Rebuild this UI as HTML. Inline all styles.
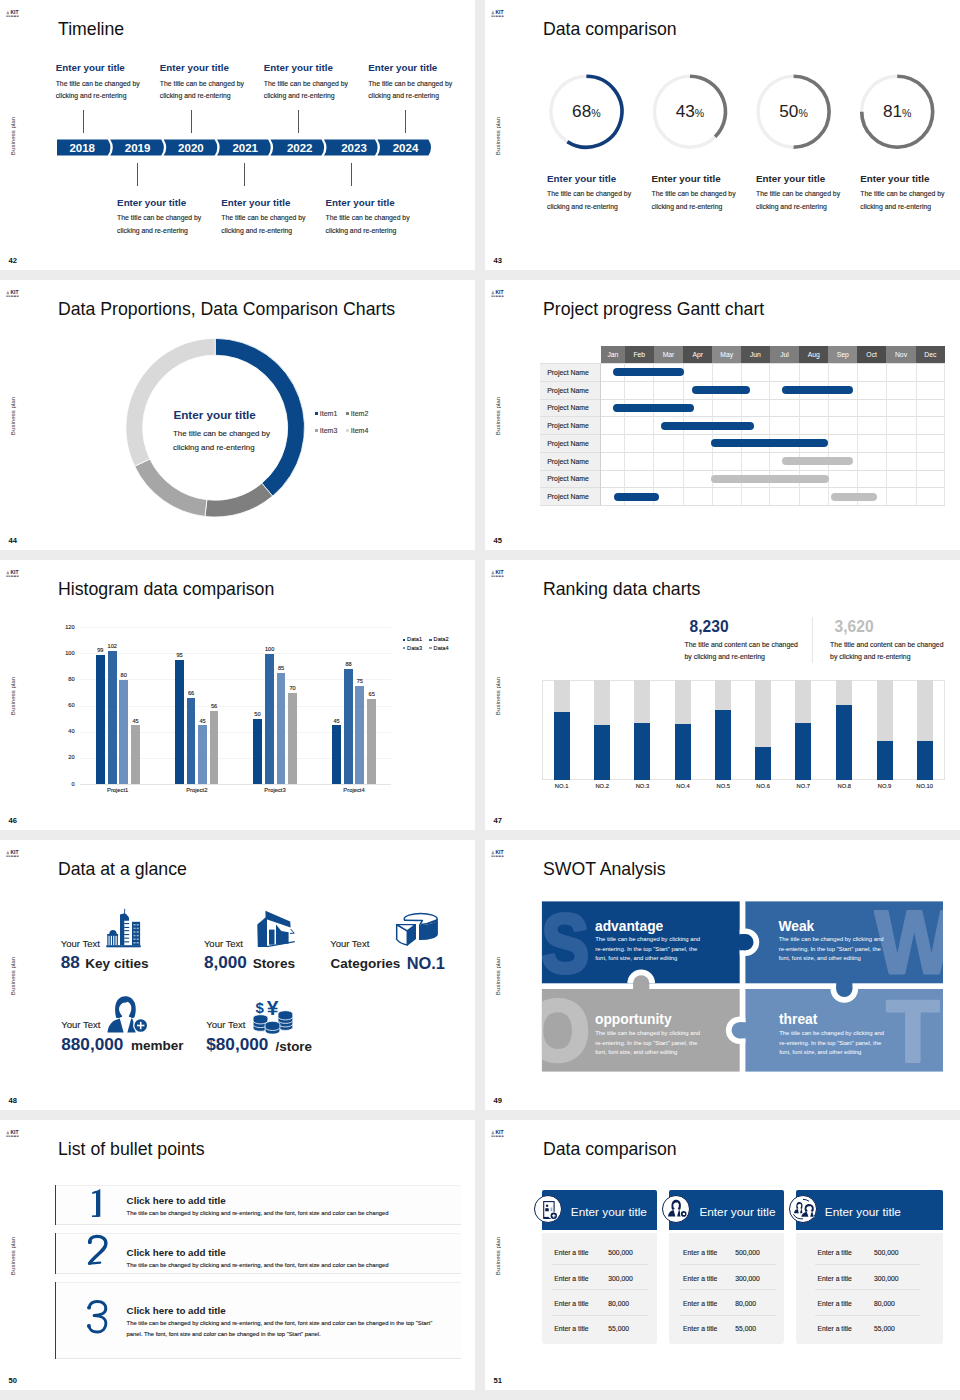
<!DOCTYPE html>
<html><head><meta charset="utf-8"><style>
*{margin:0;padding:0;box-sizing:border-box}
html,body{width:960px;height:1400px;overflow:hidden;background:#ececec;font-family:"Liberation Sans",sans-serif}
.t{position:absolute;white-space:nowrap}
.r{position:absolute}
</style></head><body>
<div class="r" style="left:0.00px;top:0.00px;width:475.00px;height:270.00px;background:#fff;"></div>
<svg class="r" style="left:6px;top:9.5px" width="15" height="9" viewBox="0 0 15 9"><path d="M0.3 4.3 L1.9 0.6 L3.4 4.3 Z" fill="#9a9a9a"/><text x="4.4" y="4.3" font-family="Liberation Sans" font-weight="700" font-size="5" fill="#10285a">KIT</text><g fill="#4a5068" opacity="0.8"><rect x="0.4" y="5.5" width="1.4" height="1.5"/><rect x="2.4" y="5.5" width="1.4" height="1.5"/><rect x="4.6" y="5.5" width="2.2" height="1.5"/><rect x="7.4" y="5.5" width="3.0" height="1.5"/><rect x="11" y="5.5" width="1.6" height="1.5"/></g></svg>
<div class="t" style="left:-6.800000000000001px;top:132.5px;width:40px;height:6px;font-size:6.15px;line-height:6px;text-align:center;color:#333;transform:rotate(-90deg)">Business plan</div>
<div class="t" style="top:257.17px;font-size:7.6px;line-height:7.6px;color:#111;font-weight:700;left:8.60px;">42</div>
<div class="t" style="top:21.22px;font-size:17.7px;line-height:17.7px;color:#111;font-weight:400;left:58.00px;">Timeline</div>
<svg class="r" style="left:0;top:0" width="475" height="270"><path d="M57.00,139.5 L107.83,139.5 Q113.03,147.5 107.83,155.5 L57.00,155.5 Z M110.23,139.5 L161.26,139.5 Q166.46,147.5 161.26,155.5 L110.23,155.5 Q115.43,147.5 110.23,139.5 Z M163.66,139.5 L214.69,139.5 Q219.89,147.5 214.69,155.5 L163.66,155.5 Q168.86,147.5 163.66,139.5 Z M217.09,139.5 L268.12,139.5 Q273.32,147.5 268.12,155.5 L217.09,155.5 Q222.29,147.5 217.09,139.5 Z M270.52,139.5 L321.55,139.5 Q326.75,147.5 321.55,155.5 L270.52,155.5 Q275.72,147.5 270.52,139.5 Z M323.95,139.5 L374.98,139.5 Q380.18,147.5 374.98,155.5 L323.95,155.5 Q329.15,147.5 323.95,139.5 Z M377.38,139.5 L428.41,139.5 Q433.61,147.5 428.41,155.5 L377.38,155.5 Q382.58,147.5 377.38,139.5 Z" fill="#0a4788"/></svg>
<div class="t" style="top:143.07px;font-size:11.5px;line-height:11.5px;color:#fff;font-weight:700;left:57.20px;width:50px;text-align:center;">2018</div>
<div class="t" style="top:143.07px;font-size:11.5px;line-height:11.5px;color:#fff;font-weight:700;left:112.60px;width:50px;text-align:center;">2019</div>
<div class="t" style="top:143.07px;font-size:11.5px;line-height:11.5px;color:#fff;font-weight:700;left:165.90px;width:50px;text-align:center;">2020</div>
<div class="t" style="top:143.07px;font-size:11.5px;line-height:11.5px;color:#fff;font-weight:700;left:220.20px;width:50px;text-align:center;">2021</div>
<div class="t" style="top:143.07px;font-size:11.5px;line-height:11.5px;color:#fff;font-weight:700;left:274.70px;width:50px;text-align:center;">2022</div>
<div class="t" style="top:143.07px;font-size:11.5px;line-height:11.5px;color:#fff;font-weight:700;left:329.00px;width:50px;text-align:center;">2023</div>
<div class="t" style="top:143.07px;font-size:11.5px;line-height:11.5px;color:#fff;font-weight:700;left:380.50px;width:50px;text-align:center;">2024</div>
<div class="r" style="left:83.00px;top:110.00px;width:1.00px;height:22.50px;background:#555;"></div>
<div class="r" style="left:191.00px;top:110.00px;width:1.00px;height:22.50px;background:#555;"></div>
<div class="r" style="left:298.00px;top:110.00px;width:1.00px;height:22.50px;background:#555;"></div>
<div class="r" style="left:404.50px;top:110.00px;width:1.00px;height:22.50px;background:#555;"></div>
<div class="r" style="left:137.00px;top:162.50px;width:1.00px;height:23.50px;background:#555;"></div>
<div class="r" style="left:243.50px;top:162.50px;width:1.00px;height:23.50px;background:#555;"></div>
<div class="r" style="left:351.00px;top:162.50px;width:1.00px;height:23.50px;background:#555;"></div>
<div class="t" style="top:63.10px;font-size:9.8px;line-height:9.8px;color:#16346a;font-weight:700;left:55.70px;">Enter your title</div>
<div class="t" style="top:77.93px;font-size:6.85px;line-height:12.2px;color:#222;font-weight:400;-webkit-text-stroke:0.12px #222;left:55.70px;">The title can be changed by<br>clicking and re-entering</div>
<div class="t" style="top:63.10px;font-size:9.8px;line-height:9.8px;color:#16346a;font-weight:700;left:159.80px;">Enter your title</div>
<div class="t" style="top:77.93px;font-size:6.85px;line-height:12.2px;color:#222;font-weight:400;-webkit-text-stroke:0.12px #222;left:159.80px;">The title can be changed by<br>clicking and re-entering</div>
<div class="t" style="top:63.10px;font-size:9.8px;line-height:9.8px;color:#16346a;font-weight:700;left:263.80px;">Enter your title</div>
<div class="t" style="top:77.93px;font-size:6.85px;line-height:12.2px;color:#222;font-weight:400;-webkit-text-stroke:0.12px #222;left:263.80px;">The title can be changed by<br>clicking and re-entering</div>
<div class="t" style="top:63.10px;font-size:9.8px;line-height:9.8px;color:#16346a;font-weight:700;left:368.20px;">Enter your title</div>
<div class="t" style="top:77.93px;font-size:6.85px;line-height:12.2px;color:#222;font-weight:400;-webkit-text-stroke:0.12px #222;left:368.20px;">The title can be changed by<br>clicking and re-entering</div>
<div class="t" style="top:198.30px;font-size:9.8px;line-height:9.8px;color:#16346a;font-weight:700;left:117.10px;">Enter your title</div>
<div class="t" style="top:212.03px;font-size:6.85px;line-height:12.6px;color:#222;font-weight:400;-webkit-text-stroke:0.12px #222;left:117.10px;">The title can be changed by<br>clicking and re-entering</div>
<div class="t" style="top:198.30px;font-size:9.8px;line-height:9.8px;color:#16346a;font-weight:700;left:221.30px;">Enter your title</div>
<div class="t" style="top:212.03px;font-size:6.85px;line-height:12.6px;color:#222;font-weight:400;-webkit-text-stroke:0.12px #222;left:221.30px;">The title can be changed by<br>clicking and re-entering</div>
<div class="t" style="top:198.30px;font-size:9.8px;line-height:9.8px;color:#16346a;font-weight:700;left:325.50px;">Enter your title</div>
<div class="t" style="top:212.03px;font-size:6.85px;line-height:12.6px;color:#222;font-weight:400;-webkit-text-stroke:0.12px #222;left:325.50px;">The title can be changed by<br>clicking and re-entering</div>
<div class="r" style="left:485.00px;top:0.00px;width:475.00px;height:270.00px;background:#fff;"></div>
<svg class="r" style="left:491px;top:9.5px" width="15" height="9" viewBox="0 0 15 9"><path d="M0.3 4.3 L1.9 0.6 L3.4 4.3 Z" fill="#9a9a9a"/><text x="4.4" y="4.3" font-family="Liberation Sans" font-weight="700" font-size="5" fill="#10285a">KIT</text><g fill="#4a5068" opacity="0.8"><rect x="0.4" y="5.5" width="1.4" height="1.5"/><rect x="2.4" y="5.5" width="1.4" height="1.5"/><rect x="4.6" y="5.5" width="2.2" height="1.5"/><rect x="7.4" y="5.5" width="3.0" height="1.5"/><rect x="11" y="5.5" width="1.6" height="1.5"/></g></svg>
<div class="t" style="left:478.2px;top:132.5px;width:40px;height:6px;font-size:6.15px;line-height:6px;text-align:center;color:#333;transform:rotate(-90deg)">Business plan</div>
<div class="t" style="top:257.17px;font-size:7.6px;line-height:7.6px;color:#111;font-weight:700;left:493.60px;">43</div>
<div class="t" style="top:21.22px;font-size:17.7px;line-height:17.7px;color:#111;font-weight:400;left:543.00px;">Data comparison</div>
<svg class="r" style="left:0;top:0" width="960" height="300"><circle cx="586.4" cy="111.7" r="35.5" fill="none" stroke="#efefef" stroke-width="3.4"/><path d="M586.40,76.20 A35.5,35.5 0 1 1 567.38,141.67" fill="none" stroke="#113c7a" stroke-width="3.6"/><circle cx="690.0" cy="111.7" r="35.5" fill="none" stroke="#efefef" stroke-width="3.4"/><path d="M690.00,76.20 A35.5,35.5 0 0 1 715.10,136.80" fill="none" stroke="#737373" stroke-width="3.6"/><circle cx="793.6" cy="111.7" r="35.5" fill="none" stroke="#efefef" stroke-width="3.4"/><path d="M793.60,76.20 A35.5,35.5 0 0 1 793.60,147.20" fill="none" stroke="#737373" stroke-width="3.6"/><circle cx="897.2" cy="111.7" r="35.5" fill="none" stroke="#efefef" stroke-width="3.4"/><path d="M897.20,76.20 A35.5,35.5 0 1 1 861.70,111.70" fill="none" stroke="#737373" stroke-width="3.6"/></svg>
<div class="t" style="left:546.40px;width:80px;text-align:center;top:102.74px;font-size:17.2px;line-height:17.2px;color:#222">68<span style="font-size:10.6px">%</span></div>
<div class="t" style="left:650.00px;width:80px;text-align:center;top:102.74px;font-size:17.2px;line-height:17.2px;color:#222">43<span style="font-size:10.6px">%</span></div>
<div class="t" style="left:753.60px;width:80px;text-align:center;top:102.74px;font-size:17.2px;line-height:17.2px;color:#222">50<span style="font-size:10.6px">%</span></div>
<div class="t" style="left:857.20px;width:80px;text-align:center;top:102.74px;font-size:17.2px;line-height:17.2px;color:#222">81<span style="font-size:10.6px">%</span></div>
<div class="t" style="top:174.20px;font-size:9.8px;line-height:9.8px;color:#16346a;font-weight:700;left:547.00px;">Enter your title</div>
<div class="t" style="top:188.13px;font-size:6.85px;line-height:12.6px;color:#222;font-weight:400;-webkit-text-stroke:0.12px #222;left:547.00px;">The title can be changed by<br>clicking and re-entering</div>
<div class="t" style="top:174.20px;font-size:9.8px;line-height:9.8px;color:#262626;font-weight:700;left:651.50px;">Enter your title</div>
<div class="t" style="top:188.13px;font-size:6.85px;line-height:12.6px;color:#222;font-weight:400;-webkit-text-stroke:0.12px #222;left:651.50px;">The title can be changed by<br>clicking and re-entering</div>
<div class="t" style="top:174.20px;font-size:9.8px;line-height:9.8px;color:#262626;font-weight:700;left:756.00px;">Enter your title</div>
<div class="t" style="top:188.13px;font-size:6.85px;line-height:12.6px;color:#222;font-weight:400;-webkit-text-stroke:0.12px #222;left:756.00px;">The title can be changed by<br>clicking and re-entering</div>
<div class="t" style="top:174.20px;font-size:9.8px;line-height:9.8px;color:#262626;font-weight:700;left:860.30px;">Enter your title</div>
<div class="t" style="top:188.13px;font-size:6.85px;line-height:12.6px;color:#222;font-weight:400;-webkit-text-stroke:0.12px #222;left:860.30px;">The title can be changed by<br>clicking and re-entering</div>
<div class="r" style="left:0.00px;top:280.00px;width:475.00px;height:270.00px;background:#fff;"></div>
<svg class="r" style="left:6px;top:289.5px" width="15" height="9" viewBox="0 0 15 9"><path d="M0.3 4.3 L1.9 0.6 L3.4 4.3 Z" fill="#9a9a9a"/><text x="4.4" y="4.3" font-family="Liberation Sans" font-weight="700" font-size="5" fill="#10285a">KIT</text><g fill="#4a5068" opacity="0.8"><rect x="0.4" y="5.5" width="1.4" height="1.5"/><rect x="2.4" y="5.5" width="1.4" height="1.5"/><rect x="4.6" y="5.5" width="2.2" height="1.5"/><rect x="7.4" y="5.5" width="3.0" height="1.5"/><rect x="11" y="5.5" width="1.6" height="1.5"/></g></svg>
<div class="t" style="left:-6.800000000000001px;top:412.5px;width:40px;height:6px;font-size:6.15px;line-height:6px;text-align:center;color:#333;transform:rotate(-90deg)">Business plan</div>
<div class="t" style="top:537.17px;font-size:7.6px;line-height:7.6px;color:#111;font-weight:700;left:8.60px;">44</div>
<div class="t" style="top:301.22px;font-size:17.7px;line-height:17.7px;color:#111;font-weight:400;left:58.00px;">Data Proportions, Data Comparison Charts</div>
<svg class="r" style="left:0;top:280px" width="475" height="270" viewBox="0 280 475 270"><path d="M215.20,338.40 A89.3,89.3 0 0 1 272.60,496.11 L261.80,483.24 A72.5,72.5 0 0 0 215.20,355.20 Z" fill="#0a4788" stroke="#fff" stroke-width="0.8"/><path d="M272.60,496.11 A89.3,89.3 0 0 1 204.94,516.41 L206.87,499.72 A72.5,72.5 0 0 0 261.80,483.24 Z" fill="#7f7f7f" stroke="#fff" stroke-width="0.8"/><path d="M204.94,516.41 A89.3,89.3 0 0 1 134.67,466.29 L149.82,459.03 A72.5,72.5 0 0 0 206.87,499.72 Z" fill="#a6a6a6" stroke="#fff" stroke-width="0.8"/><path d="M134.67,466.29 A89.3,89.3 0 0 1 215.20,338.40 L215.20,355.20 A72.5,72.5 0 0 0 149.82,459.03 Z" fill="#d9d9d9" stroke="#fff" stroke-width="0.8"/></svg>
<div class="t" style="top:408.80px;font-size:11.7px;line-height:11.7px;color:#16346a;font-weight:700;left:173.40px;">Enter your title</div>
<div class="t" style="top:426.76px;font-size:7.9px;line-height:14.2px;color:#1e1e1e;font-weight:400;-webkit-text-stroke:0.12px #1e1e1e;left:173.00px;">The title can be changed by<br>clicking and re-entering</div>
<div class="r" style="left:314.80px;top:411.90px;width:3.00px;height:3.00px;background:#0a4788;"></div>
<div class="t" style="top:409.87px;font-size:7px;line-height:7px;color:#3a3a3a;font-weight:400;-webkit-text-stroke:0.12px #3a3a3a;left:319.80px;">Item1</div>
<div class="r" style="left:345.80px;top:411.90px;width:3.00px;height:3.00px;background:#7f7f7f;"></div>
<div class="t" style="top:409.87px;font-size:7px;line-height:7px;color:#3a3a3a;font-weight:400;-webkit-text-stroke:0.12px #3a3a3a;left:350.80px;">Item2</div>
<div class="r" style="left:314.80px;top:429.40px;width:3.00px;height:3.00px;background:#a6a6a6;"></div>
<div class="t" style="top:427.37px;font-size:7px;line-height:7px;color:#3a3a3a;font-weight:400;-webkit-text-stroke:0.12px #3a3a3a;left:319.80px;">Item3</div>
<div class="r" style="left:345.80px;top:429.40px;width:3.00px;height:3.00px;background:#d9d9d9;"></div>
<div class="t" style="top:427.37px;font-size:7px;line-height:7px;color:#3a3a3a;font-weight:400;-webkit-text-stroke:0.12px #3a3a3a;left:350.80px;">Item4</div>
<div class="r" style="left:485.00px;top:280.00px;width:475.00px;height:270.00px;background:#fff;"></div>
<svg class="r" style="left:491px;top:289.5px" width="15" height="9" viewBox="0 0 15 9"><path d="M0.3 4.3 L1.9 0.6 L3.4 4.3 Z" fill="#9a9a9a"/><text x="4.4" y="4.3" font-family="Liberation Sans" font-weight="700" font-size="5" fill="#10285a">KIT</text><g fill="#4a5068" opacity="0.8"><rect x="0.4" y="5.5" width="1.4" height="1.5"/><rect x="2.4" y="5.5" width="1.4" height="1.5"/><rect x="4.6" y="5.5" width="2.2" height="1.5"/><rect x="7.4" y="5.5" width="3.0" height="1.5"/><rect x="11" y="5.5" width="1.6" height="1.5"/></g></svg>
<div class="t" style="left:478.2px;top:412.5px;width:40px;height:6px;font-size:6.15px;line-height:6px;text-align:center;color:#333;transform:rotate(-90deg)">Business plan</div>
<div class="t" style="top:537.17px;font-size:7.6px;line-height:7.6px;color:#111;font-weight:700;left:493.60px;">45</div>
<div class="t" style="top:301.22px;font-size:17.7px;line-height:17.7px;color:#111;font-weight:400;left:543.00px;">Project progress Gantt chart</div>
<div class="r" style="left:540.30px;top:363.40px;width:60.30px;height:142.00px;background:#f0f0f0;"></div>
<div class="r" style="left:601.10px;top:363.40px;width:343.70px;height:142.00px;background:#fff;"></div>
<div class="r" style="left:601.10px;top:346.00px;width:23.60px;height:17.40px;background:#767676;"></div>
<div class="t" style="top:352.24px;font-size:6.8px;line-height:6.8px;color:#fff;font-weight:400;left:597.90px;width:30px;text-align:center;">Jan</div>
<div class="r" style="left:624.70px;top:346.00px;width:29.10px;height:17.40px;background:#555555;"></div>
<div class="t" style="top:352.24px;font-size:6.8px;line-height:6.8px;color:#fff;font-weight:400;left:624.25px;width:30px;text-align:center;">Feb</div>
<div class="r" style="left:653.80px;top:346.00px;width:29.40px;height:17.40px;background:#808080;"></div>
<div class="t" style="top:352.24px;font-size:6.8px;line-height:6.8px;color:#fff;font-weight:400;left:653.50px;width:30px;text-align:center;">Mar</div>
<div class="r" style="left:683.20px;top:346.00px;width:29.10px;height:17.40px;background:#505050;"></div>
<div class="t" style="top:352.24px;font-size:6.8px;line-height:6.8px;color:#fff;font-weight:400;left:682.75px;width:30px;text-align:center;">Apr</div>
<div class="r" style="left:712.30px;top:346.00px;width:28.70px;height:17.40px;background:#8a8a8a;"></div>
<div class="t" style="top:352.24px;font-size:6.8px;line-height:6.8px;color:#fff;font-weight:400;left:711.65px;width:30px;text-align:center;">May</div>
<div class="r" style="left:741.00px;top:346.00px;width:28.80px;height:17.40px;background:#555555;"></div>
<div class="t" style="top:352.24px;font-size:6.8px;line-height:6.8px;color:#fff;font-weight:400;left:740.40px;width:30px;text-align:center;">Jun</div>
<div class="r" style="left:769.80px;top:346.00px;width:29.40px;height:17.40px;background:#7e7e7e;"></div>
<div class="t" style="top:352.24px;font-size:6.8px;line-height:6.8px;color:#fff;font-weight:400;left:769.50px;width:30px;text-align:center;">Jul</div>
<div class="r" style="left:799.20px;top:346.00px;width:29.10px;height:17.40px;background:#505050;"></div>
<div class="t" style="top:352.24px;font-size:6.8px;line-height:6.8px;color:#fff;font-weight:400;left:798.75px;width:30px;text-align:center;">Aug</div>
<div class="r" style="left:828.30px;top:346.00px;width:28.90px;height:17.40px;background:#8a8a8a;"></div>
<div class="t" style="top:352.24px;font-size:6.8px;line-height:6.8px;color:#fff;font-weight:400;left:827.75px;width:30px;text-align:center;">Sep</div>
<div class="r" style="left:857.20px;top:346.00px;width:28.90px;height:17.40px;background:#4c4c4c;"></div>
<div class="t" style="top:352.24px;font-size:6.8px;line-height:6.8px;color:#fff;font-weight:400;left:856.65px;width:30px;text-align:center;">Oct</div>
<div class="r" style="left:886.10px;top:346.00px;width:29.80px;height:17.40px;background:#808080;"></div>
<div class="t" style="top:352.24px;font-size:6.8px;line-height:6.8px;color:#fff;font-weight:400;left:886.00px;width:30px;text-align:center;">Nov</div>
<div class="r" style="left:915.90px;top:346.00px;width:28.90px;height:17.40px;background:#555555;"></div>
<div class="t" style="top:352.24px;font-size:6.8px;line-height:6.8px;color:#fff;font-weight:400;left:915.35px;width:30px;text-align:center;">Dec</div>
<div class="r" style="left:540.30px;top:363.00px;width:404.50px;height:0.80px;background:#e0e0e0;"></div>
<div class="r" style="left:540.30px;top:380.75px;width:404.50px;height:0.80px;background:#e0e0e0;"></div>
<div class="r" style="left:540.30px;top:398.50px;width:404.50px;height:0.80px;background:#e0e0e0;"></div>
<div class="r" style="left:540.30px;top:416.25px;width:404.50px;height:0.80px;background:#e0e0e0;"></div>
<div class="r" style="left:540.30px;top:434.00px;width:404.50px;height:0.80px;background:#e0e0e0;"></div>
<div class="r" style="left:540.30px;top:451.75px;width:404.50px;height:0.80px;background:#e0e0e0;"></div>
<div class="r" style="left:540.30px;top:469.50px;width:404.50px;height:0.80px;background:#e0e0e0;"></div>
<div class="r" style="left:540.30px;top:487.25px;width:404.50px;height:0.80px;background:#e0e0e0;"></div>
<div class="r" style="left:540.30px;top:505.00px;width:404.50px;height:0.80px;background:#e0e0e0;"></div>
<div class="r" style="left:624.30px;top:363.40px;width:0.80px;height:142.00px;background:#e6e6e6;"></div>
<div class="r" style="left:653.40px;top:363.40px;width:0.80px;height:142.00px;background:#e6e6e6;"></div>
<div class="r" style="left:682.80px;top:363.40px;width:0.80px;height:142.00px;background:#e6e6e6;"></div>
<div class="r" style="left:711.90px;top:363.40px;width:0.80px;height:142.00px;background:#e6e6e6;"></div>
<div class="r" style="left:740.60px;top:363.40px;width:0.80px;height:142.00px;background:#e6e6e6;"></div>
<div class="r" style="left:769.40px;top:363.40px;width:0.80px;height:142.00px;background:#e6e6e6;"></div>
<div class="r" style="left:798.80px;top:363.40px;width:0.80px;height:142.00px;background:#e6e6e6;"></div>
<div class="r" style="left:827.90px;top:363.40px;width:0.80px;height:142.00px;background:#e6e6e6;"></div>
<div class="r" style="left:856.80px;top:363.40px;width:0.80px;height:142.00px;background:#e6e6e6;"></div>
<div class="r" style="left:885.70px;top:363.40px;width:0.80px;height:142.00px;background:#e6e6e6;"></div>
<div class="r" style="left:915.50px;top:363.40px;width:0.80px;height:142.00px;background:#e6e6e6;"></div>
<div class="r" style="left:944.40px;top:363.40px;width:0.80px;height:142.00px;background:#e6e6e6;"></div>
<div class="r" style="left:600.20px;top:363.40px;width:0.80px;height:142.00px;background:#d0d0d0;"></div>
<div class="t" style="top:369.76px;font-size:6.9px;line-height:6.9px;color:#222;font-weight:400;-webkit-text-stroke:0.12px #222;left:547.20px;">Project Name</div>
<div class="t" style="top:387.51px;font-size:6.9px;line-height:6.9px;color:#222;font-weight:400;-webkit-text-stroke:0.12px #222;left:547.20px;">Project Name</div>
<div class="t" style="top:405.26px;font-size:6.9px;line-height:6.9px;color:#222;font-weight:400;-webkit-text-stroke:0.12px #222;left:547.20px;">Project Name</div>
<div class="t" style="top:423.01px;font-size:6.9px;line-height:6.9px;color:#222;font-weight:400;-webkit-text-stroke:0.12px #222;left:547.20px;">Project Name</div>
<div class="t" style="top:440.76px;font-size:6.9px;line-height:6.9px;color:#222;font-weight:400;-webkit-text-stroke:0.12px #222;left:547.20px;">Project Name</div>
<div class="t" style="top:458.51px;font-size:6.9px;line-height:6.9px;color:#222;font-weight:400;-webkit-text-stroke:0.12px #222;left:547.20px;">Project Name</div>
<div class="t" style="top:476.26px;font-size:6.9px;line-height:6.9px;color:#222;font-weight:400;-webkit-text-stroke:0.12px #222;left:547.20px;">Project Name</div>
<div class="t" style="top:494.01px;font-size:6.9px;line-height:6.9px;color:#222;font-weight:400;-webkit-text-stroke:0.12px #222;left:547.20px;">Project Name</div>
<div class="r" style="left:613.00px;top:368.30px;width:71.00px;height:8.00px;background:#0a4788;border-radius:4px;"></div>
<div class="r" style="left:692.40px;top:386.05px;width:57.20px;height:8.00px;background:#0a4788;border-radius:4px;"></div>
<div class="r" style="left:782.00px;top:386.05px;width:71.00px;height:8.00px;background:#0a4788;border-radius:4px;"></div>
<div class="r" style="left:613.00px;top:403.80px;width:81.00px;height:8.00px;background:#0a4788;border-radius:4px;"></div>
<div class="r" style="left:661.00px;top:421.55px;width:93.20px;height:8.00px;background:#0a4788;border-radius:4px;"></div>
<div class="r" style="left:710.70px;top:439.30px;width:117.10px;height:8.00px;background:#0a4788;border-radius:4px;"></div>
<div class="r" style="left:782.00px;top:457.05px;width:71.00px;height:8.00px;background:#bfbfbf;border-radius:4px;"></div>
<div class="r" style="left:710.70px;top:474.80px;width:118.10px;height:8.00px;background:#bfbfbf;border-radius:4px;"></div>
<div class="r" style="left:613.70px;top:492.55px;width:45.20px;height:8.00px;background:#0a4788;border-radius:4px;"></div>
<div class="r" style="left:831.00px;top:492.55px;width:46.00px;height:8.00px;background:#bfbfbf;border-radius:4px;"></div>
<div class="r" style="left:0.00px;top:560.00px;width:475.00px;height:270.00px;background:#fff;"></div>
<svg class="r" style="left:6px;top:569.5px" width="15" height="9" viewBox="0 0 15 9"><path d="M0.3 4.3 L1.9 0.6 L3.4 4.3 Z" fill="#9a9a9a"/><text x="4.4" y="4.3" font-family="Liberation Sans" font-weight="700" font-size="5" fill="#10285a">KIT</text><g fill="#4a5068" opacity="0.8"><rect x="0.4" y="5.5" width="1.4" height="1.5"/><rect x="2.4" y="5.5" width="1.4" height="1.5"/><rect x="4.6" y="5.5" width="2.2" height="1.5"/><rect x="7.4" y="5.5" width="3.0" height="1.5"/><rect x="11" y="5.5" width="1.6" height="1.5"/></g></svg>
<div class="t" style="left:-6.800000000000001px;top:692.5px;width:40px;height:6px;font-size:6.15px;line-height:6px;text-align:center;color:#333;transform:rotate(-90deg)">Business plan</div>
<div class="t" style="top:817.17px;font-size:7.6px;line-height:7.6px;color:#111;font-weight:700;left:8.60px;">46</div>
<div class="t" style="top:581.22px;font-size:17.7px;line-height:17.7px;color:#111;font-weight:400;left:58.00px;">Histogram data comparison</div>
<div class="t" style="top:781.56px;font-size:5.6px;line-height:5.6px;color:#1a1a1a;font-weight:400;-webkit-text-stroke:0.12px #1a1a1a;left:54.50px;width:20px;text-align:right;">0</div>
<div class="r" style="left:79.80px;top:757.80px;width:311.60px;height:0.70px;background:#f4f4f4;"></div>
<div class="t" style="top:755.41px;font-size:5.6px;line-height:5.6px;color:#1a1a1a;font-weight:400;-webkit-text-stroke:0.12px #1a1a1a;left:54.50px;width:20px;text-align:right;">20</div>
<div class="r" style="left:79.80px;top:731.65px;width:311.60px;height:0.70px;background:#f4f4f4;"></div>
<div class="t" style="top:729.26px;font-size:5.6px;line-height:5.6px;color:#1a1a1a;font-weight:400;-webkit-text-stroke:0.12px #1a1a1a;left:54.50px;width:20px;text-align:right;">40</div>
<div class="r" style="left:79.80px;top:705.50px;width:311.60px;height:0.70px;background:#f4f4f4;"></div>
<div class="t" style="top:703.11px;font-size:5.6px;line-height:5.6px;color:#1a1a1a;font-weight:400;-webkit-text-stroke:0.12px #1a1a1a;left:54.50px;width:20px;text-align:right;">60</div>
<div class="r" style="left:79.80px;top:679.35px;width:311.60px;height:0.70px;background:#f4f4f4;"></div>
<div class="t" style="top:676.96px;font-size:5.6px;line-height:5.6px;color:#1a1a1a;font-weight:400;-webkit-text-stroke:0.12px #1a1a1a;left:54.50px;width:20px;text-align:right;">80</div>
<div class="r" style="left:79.80px;top:653.20px;width:311.60px;height:0.70px;background:#f4f4f4;"></div>
<div class="t" style="top:650.81px;font-size:5.6px;line-height:5.6px;color:#1a1a1a;font-weight:400;-webkit-text-stroke:0.12px #1a1a1a;left:54.50px;width:20px;text-align:right;">100</div>
<div class="r" style="left:79.80px;top:627.05px;width:311.60px;height:0.70px;background:#f4f4f4;"></div>
<div class="t" style="top:624.66px;font-size:5.6px;line-height:5.6px;color:#1a1a1a;font-weight:400;-webkit-text-stroke:0.12px #1a1a1a;left:54.50px;width:20px;text-align:right;">120</div>
<div class="r" style="left:79.80px;top:783.90px;width:311.60px;height:0.80px;background:#e4e4e4;"></div>
<div class="r" style="left:95.90px;top:654.86px;width:8.80px;height:129.44px;background:#0a4788;"></div>
<div class="t" style="top:647.92px;font-size:5.6px;line-height:5.6px;color:#1a1a1a;font-weight:400;-webkit-text-stroke:0.12px #1a1a1a;left:90.30px;width:20px;text-align:center;">99</div>
<div class="r" style="left:107.80px;top:650.93px;width:8.80px;height:133.37px;background:#2f65a1;"></div>
<div class="t" style="top:643.99px;font-size:5.6px;line-height:5.6px;color:#1a1a1a;font-weight:400;-webkit-text-stroke:0.12px #1a1a1a;left:102.20px;width:20px;text-align:center;">102</div>
<div class="r" style="left:119.30px;top:679.70px;width:8.80px;height:104.60px;background:#6c91bf;"></div>
<div class="t" style="top:672.76px;font-size:5.6px;line-height:5.6px;color:#1a1a1a;font-weight:400;-webkit-text-stroke:0.12px #1a1a1a;left:113.70px;width:20px;text-align:center;">80</div>
<div class="r" style="left:131.20px;top:725.46px;width:8.80px;height:58.84px;background:#a6a6a6;"></div>
<div class="t" style="top:718.52px;font-size:5.6px;line-height:5.6px;color:#1a1a1a;font-weight:400;-webkit-text-stroke:0.12px #1a1a1a;left:125.60px;width:20px;text-align:center;">45</div>
<div class="t" style="top:788.49px;font-size:5.8px;line-height:5.8px;color:#222;font-weight:400;-webkit-text-stroke:0.12px #222;left:97.70px;width:40px;text-align:center;">Project1</div>
<div class="r" style="left:175.20px;top:660.09px;width:8.80px;height:124.21px;background:#0a4788;"></div>
<div class="t" style="top:653.15px;font-size:5.6px;line-height:5.6px;color:#1a1a1a;font-weight:400;-webkit-text-stroke:0.12px #1a1a1a;left:169.60px;width:20px;text-align:center;">95</div>
<div class="r" style="left:186.70px;top:698.00px;width:8.80px;height:86.29px;background:#2f65a1;"></div>
<div class="t" style="top:691.06px;font-size:5.6px;line-height:5.6px;color:#1a1a1a;font-weight:400;-webkit-text-stroke:0.12px #1a1a1a;left:181.10px;width:20px;text-align:center;">66</div>
<div class="r" style="left:198.20px;top:725.46px;width:8.80px;height:58.84px;background:#6c91bf;"></div>
<div class="t" style="top:718.52px;font-size:5.6px;line-height:5.6px;color:#1a1a1a;font-weight:400;-webkit-text-stroke:0.12px #1a1a1a;left:192.60px;width:20px;text-align:center;">45</div>
<div class="r" style="left:209.60px;top:711.08px;width:8.80px;height:73.22px;background:#a6a6a6;"></div>
<div class="t" style="top:704.14px;font-size:5.6px;line-height:5.6px;color:#1a1a1a;font-weight:400;-webkit-text-stroke:0.12px #1a1a1a;left:204.00px;width:20px;text-align:center;">56</div>
<div class="t" style="top:788.49px;font-size:5.8px;line-height:5.8px;color:#222;font-weight:400;-webkit-text-stroke:0.12px #222;left:176.80px;width:40px;text-align:center;">Project2</div>
<div class="r" style="left:253.00px;top:718.92px;width:8.80px;height:65.38px;background:#0a4788;"></div>
<div class="t" style="top:711.98px;font-size:5.6px;line-height:5.6px;color:#1a1a1a;font-weight:400;-webkit-text-stroke:0.12px #1a1a1a;left:247.40px;width:20px;text-align:center;">50</div>
<div class="r" style="left:265.20px;top:653.55px;width:8.80px;height:130.75px;background:#2f65a1;"></div>
<div class="t" style="top:646.61px;font-size:5.6px;line-height:5.6px;color:#1a1a1a;font-weight:400;-webkit-text-stroke:0.12px #1a1a1a;left:259.60px;width:20px;text-align:center;">100</div>
<div class="r" style="left:276.70px;top:673.16px;width:8.80px;height:111.14px;background:#6c91bf;"></div>
<div class="t" style="top:666.22px;font-size:5.6px;line-height:5.6px;color:#1a1a1a;font-weight:400;-webkit-text-stroke:0.12px #1a1a1a;left:271.10px;width:20px;text-align:center;">85</div>
<div class="r" style="left:288.20px;top:692.77px;width:8.80px;height:91.52px;background:#a6a6a6;"></div>
<div class="t" style="top:685.83px;font-size:5.6px;line-height:5.6px;color:#1a1a1a;font-weight:400;-webkit-text-stroke:0.12px #1a1a1a;left:282.60px;width:20px;text-align:center;">70</div>
<div class="t" style="top:788.49px;font-size:5.8px;line-height:5.8px;color:#222;font-weight:400;-webkit-text-stroke:0.12px #222;left:255.00px;width:40px;text-align:center;">Project3</div>
<div class="r" style="left:332.20px;top:725.46px;width:8.80px;height:58.84px;background:#0a4788;"></div>
<div class="t" style="top:718.52px;font-size:5.6px;line-height:5.6px;color:#1a1a1a;font-weight:400;-webkit-text-stroke:0.12px #1a1a1a;left:326.60px;width:20px;text-align:center;">45</div>
<div class="r" style="left:344.10px;top:669.24px;width:8.80px;height:115.06px;background:#2f65a1;"></div>
<div class="t" style="top:662.30px;font-size:5.6px;line-height:5.6px;color:#1a1a1a;font-weight:400;-webkit-text-stroke:0.12px #1a1a1a;left:338.50px;width:20px;text-align:center;">88</div>
<div class="r" style="left:355.40px;top:686.24px;width:8.80px;height:98.06px;background:#6c91bf;"></div>
<div class="t" style="top:679.30px;font-size:5.6px;line-height:5.6px;color:#1a1a1a;font-weight:400;-webkit-text-stroke:0.12px #1a1a1a;left:349.80px;width:20px;text-align:center;">75</div>
<div class="r" style="left:367.30px;top:699.31px;width:8.80px;height:84.99px;background:#a6a6a6;"></div>
<div class="t" style="top:692.37px;font-size:5.6px;line-height:5.6px;color:#1a1a1a;font-weight:400;-webkit-text-stroke:0.12px #1a1a1a;left:361.70px;width:20px;text-align:center;">65</div>
<div class="t" style="top:788.49px;font-size:5.8px;line-height:5.8px;color:#222;font-weight:400;-webkit-text-stroke:0.12px #222;left:334.00px;width:40px;text-align:center;">Project4</div>
<div class="r" style="left:402.90px;top:638.60px;width:2.60px;height:2.60px;background:#0a4788;"></div>
<div class="t" style="top:637.26px;font-size:5.6px;line-height:5.6px;color:#111;font-weight:400;-webkit-text-stroke:0.12px #111;left:407.10px;">Data1</div>
<div class="r" style="left:429.40px;top:638.60px;width:2.60px;height:2.60px;background:#2f65a1;"></div>
<div class="t" style="top:637.26px;font-size:5.6px;line-height:5.6px;color:#111;font-weight:400;-webkit-text-stroke:0.12px #111;left:433.60px;">Data2</div>
<div class="r" style="left:402.90px;top:646.90px;width:2.60px;height:2.60px;background:#6c91bf;"></div>
<div class="t" style="top:645.56px;font-size:5.6px;line-height:5.6px;color:#111;font-weight:400;-webkit-text-stroke:0.12px #111;left:407.10px;">Data3</div>
<div class="r" style="left:429.40px;top:646.90px;width:2.60px;height:2.60px;background:#a6a6a6;"></div>
<div class="t" style="top:645.56px;font-size:5.6px;line-height:5.6px;color:#111;font-weight:400;-webkit-text-stroke:0.12px #111;left:433.60px;">Data4</div>
<div class="r" style="left:485.00px;top:560.00px;width:475.00px;height:270.00px;background:#fff;"></div>
<svg class="r" style="left:491px;top:569.5px" width="15" height="9" viewBox="0 0 15 9"><path d="M0.3 4.3 L1.9 0.6 L3.4 4.3 Z" fill="#9a9a9a"/><text x="4.4" y="4.3" font-family="Liberation Sans" font-weight="700" font-size="5" fill="#10285a">KIT</text><g fill="#4a5068" opacity="0.8"><rect x="0.4" y="5.5" width="1.4" height="1.5"/><rect x="2.4" y="5.5" width="1.4" height="1.5"/><rect x="4.6" y="5.5" width="2.2" height="1.5"/><rect x="7.4" y="5.5" width="3.0" height="1.5"/><rect x="11" y="5.5" width="1.6" height="1.5"/></g></svg>
<div class="t" style="left:478.2px;top:692.5px;width:40px;height:6px;font-size:6.15px;line-height:6px;text-align:center;color:#333;transform:rotate(-90deg)">Business plan</div>
<div class="t" style="top:817.17px;font-size:7.6px;line-height:7.6px;color:#111;font-weight:700;left:493.60px;">47</div>
<div class="t" style="top:581.22px;font-size:17.7px;line-height:17.7px;color:#111;font-weight:400;left:543.00px;">Ranking data charts</div>
<div class="t" style="top:619.19px;font-size:15.6px;line-height:15.6px;color:#16346a;font-weight:700;left:689.60px;">8,230</div>
<div class="t" style="top:619.19px;font-size:15.6px;line-height:15.6px;color:#bdbdbd;font-weight:700;left:834.60px;">3,620</div>
<div class="t" style="top:638.56px;font-size:6.9px;line-height:12.1px;color:#222;font-weight:400;-webkit-text-stroke:0.12px #222;left:684.50px;">The title and content can be changed<br>by clicking and re-entering</div>
<div class="t" style="top:638.56px;font-size:6.9px;line-height:12.1px;color:#222;font-weight:400;-webkit-text-stroke:0.12px #222;left:830.10px;">The title and content can be changed<br>by clicking and re-entering</div>
<div class="r" style="left:812.30px;top:616.50px;width:0.80px;height:46.00px;background:#e6e6e6;"></div>
<div class="r" style="left:541.50px;top:679.60px;width:403.30px;height:100.00px;background:#fff;border:0.8px solid #e3e3e3;"></div>
<div class="r" style="left:553.60px;top:679.60px;width:16.00px;height:32.40px;background:#d9d9d9;"></div>
<div class="r" style="left:553.60px;top:712.00px;width:16.00px;height:67.60px;background:#0a4788;"></div>
<div class="t" style="top:784.09px;font-size:5.8px;line-height:5.8px;color:#222;font-weight:400;-webkit-text-stroke:0.12px #222;left:546.60px;width:30px;text-align:center;">NO.1</div>
<div class="r" style="left:594.20px;top:679.60px;width:16.00px;height:45.40px;background:#d9d9d9;"></div>
<div class="r" style="left:594.20px;top:725.00px;width:16.00px;height:54.60px;background:#0a4788;"></div>
<div class="t" style="top:784.09px;font-size:5.8px;line-height:5.8px;color:#222;font-weight:400;-webkit-text-stroke:0.12px #222;left:587.20px;width:30px;text-align:center;">NO.2</div>
<div class="r" style="left:634.40px;top:679.60px;width:16.00px;height:43.15px;background:#d9d9d9;"></div>
<div class="r" style="left:634.40px;top:722.75px;width:16.00px;height:56.85px;background:#0a4788;"></div>
<div class="t" style="top:784.09px;font-size:5.8px;line-height:5.8px;color:#222;font-weight:400;-webkit-text-stroke:0.12px #222;left:627.40px;width:30px;text-align:center;">NO.3</div>
<div class="r" style="left:675.00px;top:679.60px;width:16.00px;height:44.80px;background:#d9d9d9;"></div>
<div class="r" style="left:675.00px;top:724.40px;width:16.00px;height:55.20px;background:#0a4788;"></div>
<div class="t" style="top:784.09px;font-size:5.8px;line-height:5.8px;color:#222;font-weight:400;-webkit-text-stroke:0.12px #222;left:668.00px;width:30px;text-align:center;">NO.4</div>
<div class="r" style="left:715.30px;top:679.60px;width:16.00px;height:30.50px;background:#d9d9d9;"></div>
<div class="r" style="left:715.30px;top:710.10px;width:16.00px;height:69.50px;background:#0a4788;"></div>
<div class="t" style="top:784.09px;font-size:5.8px;line-height:5.8px;color:#222;font-weight:400;-webkit-text-stroke:0.12px #222;left:708.30px;width:30px;text-align:center;">NO.5</div>
<div class="r" style="left:755.10px;top:679.60px;width:16.00px;height:67.20px;background:#d9d9d9;"></div>
<div class="r" style="left:755.10px;top:746.80px;width:16.00px;height:32.80px;background:#0a4788;"></div>
<div class="t" style="top:784.09px;font-size:5.8px;line-height:5.8px;color:#222;font-weight:400;-webkit-text-stroke:0.12px #222;left:748.10px;width:30px;text-align:center;">NO.6</div>
<div class="r" style="left:795.30px;top:679.60px;width:16.00px;height:43.15px;background:#d9d9d9;"></div>
<div class="r" style="left:795.30px;top:722.75px;width:16.00px;height:56.85px;background:#0a4788;"></div>
<div class="t" style="top:784.09px;font-size:5.8px;line-height:5.8px;color:#222;font-weight:400;-webkit-text-stroke:0.12px #222;left:788.30px;width:30px;text-align:center;">NO.7</div>
<div class="r" style="left:836.30px;top:679.60px;width:16.00px;height:25.40px;background:#d9d9d9;"></div>
<div class="r" style="left:836.30px;top:705.00px;width:16.00px;height:74.60px;background:#0a4788;"></div>
<div class="t" style="top:784.09px;font-size:5.8px;line-height:5.8px;color:#222;font-weight:400;-webkit-text-stroke:0.12px #222;left:829.30px;width:30px;text-align:center;">NO.8</div>
<div class="r" style="left:876.50px;top:679.60px;width:16.00px;height:61.70px;background:#d9d9d9;"></div>
<div class="r" style="left:876.50px;top:741.30px;width:16.00px;height:38.30px;background:#0a4788;"></div>
<div class="t" style="top:784.09px;font-size:5.8px;line-height:5.8px;color:#222;font-weight:400;-webkit-text-stroke:0.12px #222;left:869.50px;width:30px;text-align:center;">NO.9</div>
<div class="r" style="left:916.60px;top:679.60px;width:16.00px;height:61.30px;background:#d9d9d9;"></div>
<div class="r" style="left:916.60px;top:740.90px;width:16.00px;height:38.70px;background:#0a4788;"></div>
<div class="t" style="top:784.09px;font-size:5.8px;line-height:5.8px;color:#222;font-weight:400;-webkit-text-stroke:0.12px #222;left:909.60px;width:30px;text-align:center;">NO.10</div>
<div class="r" style="left:0.00px;top:840.00px;width:475.00px;height:270.00px;background:#fff;"></div>
<svg class="r" style="left:6px;top:849.5px" width="15" height="9" viewBox="0 0 15 9"><path d="M0.3 4.3 L1.9 0.6 L3.4 4.3 Z" fill="#9a9a9a"/><text x="4.4" y="4.3" font-family="Liberation Sans" font-weight="700" font-size="5" fill="#10285a">KIT</text><g fill="#4a5068" opacity="0.8"><rect x="0.4" y="5.5" width="1.4" height="1.5"/><rect x="2.4" y="5.5" width="1.4" height="1.5"/><rect x="4.6" y="5.5" width="2.2" height="1.5"/><rect x="7.4" y="5.5" width="3.0" height="1.5"/><rect x="11" y="5.5" width="1.6" height="1.5"/></g></svg>
<div class="t" style="left:-6.800000000000001px;top:972.5px;width:40px;height:6px;font-size:6.15px;line-height:6px;text-align:center;color:#333;transform:rotate(-90deg)">Business plan</div>
<div class="t" style="top:1097.17px;font-size:7.6px;line-height:7.6px;color:#111;font-weight:700;left:8.60px;">48</div>
<div class="t" style="top:861.22px;font-size:17.7px;line-height:17.7px;color:#111;font-weight:400;left:58.00px;">Data at a glance</div>
<div class="t" style="top:938.86px;font-size:9.5px;line-height:9.5px;color:#222;font-weight:400;-webkit-text-stroke:0.12px #222;left:60.80px;">Your Text</div>
<div class="t" style="top:938.86px;font-size:9.5px;line-height:9.5px;color:#222;font-weight:400;-webkit-text-stroke:0.12px #222;left:203.90px;">Your Text</div>
<div class="t" style="top:938.96px;font-size:9.5px;line-height:9.5px;color:#222;font-weight:400;-webkit-text-stroke:0.12px #222;left:330.20px;">Your Text</div>
<div class="t" style="top:1019.96px;font-size:9.5px;line-height:9.5px;color:#222;font-weight:400;-webkit-text-stroke:0.12px #222;left:61.25px;">Your Text</div>
<div class="t" style="top:1019.96px;font-size:9.5px;line-height:9.5px;color:#222;font-weight:400;-webkit-text-stroke:0.12px #222;left:206.25px;">Your Text</div>
<div class="t" style="top:953.84px;font-size:17.2px;line-height:17.2px;color:#16346a;font-weight:700;left:60.80px;">88</div>
<div class="t" style="top:956.89px;font-size:13.6px;line-height:13.6px;color:#222;font-weight:700;left:85.20px;">Key cities</div>
<div class="t" style="top:953.84px;font-size:17.2px;line-height:17.2px;color:#16346a;font-weight:700;left:203.90px;">8,000</div>
<div class="t" style="top:956.89px;font-size:13.6px;line-height:13.6px;color:#222;font-weight:700;left:252.70px;">Stores</div>
<div class="t" style="top:956.97px;font-size:13.5px;line-height:13.5px;color:#222;font-weight:700;left:330.50px;">Categories</div>
<div class="t" style="top:954.52px;font-size:16.4px;line-height:16.4px;color:#16346a;font-weight:700;left:406.70px;">NO.1</div>
<div class="t" style="top:1036.34px;font-size:17.2px;line-height:17.2px;color:#16346a;font-weight:700;left:61.25px;">880,000</div>
<div class="t" style="top:1039.47px;font-size:13.5px;line-height:13.5px;color:#222;font-weight:700;left:131.00px;">member</div>
<div class="t" style="top:1036.34px;font-size:17.2px;line-height:17.2px;color:#16346a;font-weight:700;left:206.25px;">$80,000</div>
<div class="t" style="top:1039.56px;font-size:13.4px;line-height:13.4px;color:#222;font-weight:700;left:275.50px;">/store</div>
<svg class="r" style="left:0;top:840px" width="475" height="270" viewBox="0 840 475 270"><g fill="#0f4a8c"><rect x="106.3" y="945.2" width="34.4" height="2.1"/><rect x="107.2" y="934.0" width="10.9" height="1.9"/><path d="M109.2 934 Q109.6 930.3 112.9 930.1 Q116.4 930.3 116.8 934 Z"/><rect x="107.3" y="935.8" width="1.2" height="9.5"/><rect x="109.6" y="935.8" width="1.2" height="9.5"/><rect x="112.0" y="935.8" width="1.2" height="9.5"/><rect x="114.3" y="935.8" width="1.2" height="9.5"/><rect x="116.7" y="935.8" width="1.2" height="9.5"/><rect x="124.2" y="908.8" width="0.9" height="5.5"/><path d="M120.0 914.6 L124.6 913.2 L126.6 914.6 L129.0 917.4 L129.0 920.8 L124.3 920.8 L124.3 945.3 L120.0 945.3 Z"/><rect x="124.2" y="923.0" width="5.0" height="1.1"/><rect x="124.2" y="926.9" width="5.0" height="1.1"/><rect x="124.2" y="930.1" width="5.0" height="1.1"/><rect x="124.2" y="934.0" width="5.0" height="1.1"/><rect x="124.2" y="937.6" width="5.0" height="1.1"/><rect x="124.2" y="941.3" width="5.0" height="1.1"/><rect x="132.0" y="921.8" width="8.1" height="23.5"/></g><g fill="#fff" opacity="0.55"><rect x="133.4" y="924.0" width="2.2" height="1.6"/><rect x="136.6" y="924.0" width="2.2" height="1.6"/><rect x="133.4" y="927.6" width="2.2" height="1.6"/><rect x="136.6" y="927.6" width="2.2" height="1.6"/><rect x="133.4" y="931.2" width="2.2" height="1.6"/><rect x="136.6" y="931.2" width="2.2" height="1.6"/><rect x="133.4" y="934.8" width="2.2" height="1.6"/><rect x="136.6" y="934.8" width="2.2" height="1.6"/><rect x="133.4" y="938.4" width="2.2" height="1.6"/><rect x="136.6" y="938.4" width="2.2" height="1.6"/><rect x="133.4" y="942.0" width="2.2" height="1.6"/><rect x="136.6" y="942.0" width="2.2" height="1.6"/></g><g fill="#0f4a8c"><path d="M265.4 910.8 L290.2 921.6 L290.6 927.6 L267.2 919.4 L265.6 918.6 Z"/><path d="M257.3 924.6 L265.4 917.4 L267.0 917.6 L267.0 946.9 L257.8 946.9 Z"/><rect x="269.0" y="929.6" width="5.5" height="15.1"/><path d="M276.0 924.4 L281.3 931.0 L288.6 932.2 L288.6 943.6 L276.0 944.8 Z"/></g><path d="M266.8 946.6 L294.8 941.6" stroke="#0f4a8c" stroke-width="1.1" fill="none"/><path d="M290.7 929.1 L294.2 933.2 L290.0 933.4" stroke="#0f4a8c" stroke-width="1.0" fill="none"/><path d="M437.9 918.9 A17.2 5.9 0 0 1 419.2 924.7 L419.2 940.0 A17.2 5.9 0 0 0 437.9 934.2 Z" fill="#0f4a8c"/><ellipse cx="420.7" cy="918.9" rx="16.5" ry="5.3" fill="#fff" stroke="#0f4a8c" stroke-width="1.5"/><path d="M437.2 918.9 L437.2 921 L419.6 925.4 Z" fill="#0f4a8c"/><path d="M402.5 920.9 L422.6 920.9 L420.4 925.4 L402.5 925.4 Z" fill="#fff"/><path d="M404.3 920.2 L422.5 920.4 L419.8 924.9 L419.8 940" fill="none" stroke="#0f4a8c" stroke-width="1.5" stroke-linejoin="round"/><path d="M407.3 930.8 L415.4 924.6 L415.4 938.8 L407.3 945.0 Z" fill="#0f4a8c" stroke="#0f4a8c" stroke-width="1.2" stroke-linejoin="round"/><path d="M396.7 924.6 L407.3 930.8 L407.3 945.0 Q400.2 943.8 396.7 939.4 Z" fill="#fff" stroke="#0f4a8c" stroke-width="1.5" stroke-linejoin="round"/><path d="M396.7 924.6 L415.4 924.6 L407.3 930.8 Z" fill="#fff" stroke="#0f4a8c" stroke-width="1.4" stroke-linejoin="round"/><path d="M116.0 1017.6 C114.4 1011 114.8 1003.5 117.6 1000.0 C120.0 997.0 122.6 996.2 125.2 996.2 C129.6 996.2 133.2 998.8 134.8 1003.0 C136.2 1007.0 136.0 1013.2 134.4 1017.6 C132.6 1018.4 131.0 1017.8 130.4 1017.0 L121.0 1017.0 C120.0 1018.0 117.8 1018.6 116.0 1017.6 Z" fill="#0f4a8c"/><path d="M119.0 1008.6 C119.2 1005.2 121.6 1003.2 124.2 1002.4 C125.6 1003.2 126.8 1002.0 127.6 1001.8 C130.0 1003.0 131.4 1005.4 131.4 1008.0 C131.4 1011.6 129.6 1014.6 128.8 1016.0 L129.4 1018.8 L121.4 1018.8 L122.2 1016.0 C120.6 1014.2 119.0 1011.6 119.0 1008.6 Z" fill="#fff"/><path d="M107.4 1032.6 C108.0 1026.6 110.8 1022.2 115.0 1020.2 L119.8 1018.4 L123.6 1032.6 Z" fill="#0f4a8c"/><path d="M127.4 1032.6 L131.2 1018.4 L132.4 1018.8 C133.6 1022 134.6 1026.5 135.6 1032.6 Z" fill="#0f4a8c"/><circle cx="140.7" cy="1025.5" r="7.6" fill="#fff"/><circle cx="140.7" cy="1025.5" r="6.3" fill="#0f4a8c"/><rect x="137.0" y="1024.7" width="7.4" height="1.6" fill="#fff"/><rect x="139.9" y="1021.8" width="1.6" height="7.4" fill="#fff"/><text x="255.6" y="1012.6" font-family="Liberation Sans" font-weight="700" font-size="15" fill="#0f4a8c">$</text><text x="266.7" y="1014.6" font-family="Liberation Sans" font-weight="700" font-size="21" fill="#0f4a8c">&#165;</text><path d="M253.10 1025.20 A7.4 3.1 0 0 1 267.90 1025.20 L267.90 1028.20 A7.4 3.1 0 0 1 253.10 1028.20 Z" fill="#0f4a8c" stroke="#fff" stroke-width="0.8"/><path d="M253.10 1021.50 A7.4 3.1 0 0 1 267.90 1021.50 L267.90 1024.50 A7.4 3.1 0 0 1 253.10 1024.50 Z" fill="#0f4a8c" stroke="#fff" stroke-width="0.8"/><path d="M253.10 1017.80 A7.4 3.1 0 0 1 267.90 1017.80 L267.90 1020.80 A7.4 3.1 0 0 1 253.10 1020.80 Z" fill="#0f4a8c" stroke="#fff" stroke-width="0.8"/><path d="M278.00 1024.30 A7.4 3.1 0 0 1 292.80 1024.30 L292.80 1027.30 A7.4 3.1 0 0 1 278.00 1027.30 Z" fill="#0f4a8c" stroke="#fff" stroke-width="0.8"/><path d="M278.00 1020.80 A7.4 3.1 0 0 1 292.80 1020.80 L292.80 1023.80 A7.4 3.1 0 0 1 278.00 1023.80 Z" fill="#0f4a8c" stroke="#fff" stroke-width="0.8"/><path d="M278.00 1017.30 A7.4 3.1 0 0 1 292.80 1017.30 L292.80 1020.30 A7.4 3.1 0 0 1 278.00 1020.30 Z" fill="#0f4a8c" stroke="#fff" stroke-width="0.8"/><path d="M278.00 1013.80 A7.4 3.1 0 0 1 292.80 1013.80 L292.80 1016.80 A7.4 3.1 0 0 1 278.00 1016.80 Z" fill="#0f4a8c" stroke="#fff" stroke-width="0.8"/><path d="M265.10 1028.00 A7.4 3.1 0 0 1 279.90 1028.00 L279.90 1031.00 A7.4 3.1 0 0 1 265.10 1031.00 Z" fill="#0f4a8c" stroke="#fff" stroke-width="0.8"/><path d="M265.10 1024.40 A7.4 3.1 0 0 1 279.90 1024.40 L279.90 1027.40 A7.4 3.1 0 0 1 265.10 1027.40 Z" fill="#0f4a8c" stroke="#fff" stroke-width="0.8"/></svg>
<div class="r" style="left:485.00px;top:840.00px;width:475.00px;height:270.00px;background:#fff;"></div>
<svg class="r" style="left:491px;top:849.5px" width="15" height="9" viewBox="0 0 15 9"><path d="M0.3 4.3 L1.9 0.6 L3.4 4.3 Z" fill="#9a9a9a"/><text x="4.4" y="4.3" font-family="Liberation Sans" font-weight="700" font-size="5" fill="#10285a">KIT</text><g fill="#4a5068" opacity="0.8"><rect x="0.4" y="5.5" width="1.4" height="1.5"/><rect x="2.4" y="5.5" width="1.4" height="1.5"/><rect x="4.6" y="5.5" width="2.2" height="1.5"/><rect x="7.4" y="5.5" width="3.0" height="1.5"/><rect x="11" y="5.5" width="1.6" height="1.5"/></g></svg>
<div class="t" style="left:478.2px;top:972.5px;width:40px;height:6px;font-size:6.15px;line-height:6px;text-align:center;color:#333;transform:rotate(-90deg)">Business plan</div>
<div class="t" style="top:1097.17px;font-size:7.6px;line-height:7.6px;color:#111;font-weight:700;left:493.60px;">49</div>
<div class="t" style="top:861.22px;font-size:17.7px;line-height:17.7px;color:#111;font-weight:400;left:543.00px;">SWOT Analysis</div>
<svg class="r" style="left:0;top:0" width="960" height="1110"><defs><clipPath id="cS"><rect x="541.9" y="901.4" width="197.80000000000007" height="81.89999999999998"/></clipPath><clipPath id="cW"><rect x="745.4" y="901.4" width="197.60000000000002" height="81.89999999999998"/></clipPath><clipPath id="cO"><rect x="541.9" y="989.0" width="197.80000000000007" height="82.59999999999991"/></clipPath><clipPath id="cT"><rect x="745.4" y="989.0" width="197.60000000000002" height="82.59999999999991"/></clipPath></defs><rect x="541.9" y="901.4" width="197.80000000000007" height="81.89999999999998" fill="#0c4585"/><rect x="745.4" y="901.4" width="197.60000000000002" height="81.89999999999998" fill="#3266a2"/><rect x="541.9" y="989.0" width="197.80000000000007" height="82.59999999999991" fill="#a6a6a6"/><rect x="745.4" y="989.0" width="197.60000000000002" height="82.59999999999991" fill="#6a8fbd"/><g clip-path="url(#cS)"><text x="0" y="0" transform="translate(541.5,972.0) scale(0.86,1)" font-family="Liberation Sans" font-weight="700" font-size="83" fill="#2c5f9c" stroke="#2c5f9c" stroke-width="4.0" stroke-linejoin="round">S</text></g><g clip-path="url(#cW)"><text x="0" y="0" transform="translate(875.0,972.8) scale(0.93,1)" font-family="Liberation Sans" font-weight="700" font-size="89.5" fill="#5f85b7" stroke="#5f85b7" stroke-width="3.0" stroke-linejoin="round">W</text></g><g clip-path="url(#cO)"><text x="0" y="0" transform="translate(526.0,1059.8) scale(0.95,1)" font-family="Liberation Sans" font-weight="700" font-size="86" fill="#bfbfbf" stroke="#bfbfbf" stroke-width="4.5" stroke-linejoin="round">O</text></g><g clip-path="url(#cT)"><text x="0" y="0" transform="translate(886.3,1061.1) scale(0.99,1)" font-family="Liberation Sans" font-weight="700" font-size="88" fill="#8aa6ca" stroke="#8aa6ca" stroke-width="3.0" stroke-linejoin="round">T</text></g><clipPath id="hp0"><rect x="739.7" y="0" width="300" height="1200"/></clipPath><circle cx="745.4" cy="942.2" r="13.8" fill="#fff" clip-path="url(#hp0)"/><clipPath id="hp1"><rect x="0" y="0" width="1000" height="983.3"/></clipPath><circle cx="641.2" cy="983.3" r="13.8" fill="#fff" clip-path="url(#hp1)"/><clipPath id="hp2"><rect x="0" y="0" width="745.4" height="1200"/></clipPath><circle cx="739.7" cy="1030.3" r="13.8" fill="#fff" clip-path="url(#hp2)"/><clipPath id="hp3"><rect x="0" y="989.0" width="1000" height="300"/></clipPath><circle cx="844.3" cy="989.0" r="13.8" fill="#fff" clip-path="url(#hp3)"/><circle cx="745.4" cy="942.2" r="8.1" fill="#0c4585"/><rect x="739.2" y="934.1" width="6.699999999999932" height="16.2" fill="#0c4585"/><circle cx="641.2" cy="983.3" r="8.1" fill="#a6a6a6"/><rect x="633.1" y="982.8" width="16.2" height="6.7000000000000455" fill="#a6a6a6"/><circle cx="739.7" cy="1030.3" r="8.1" fill="#6a8fbd"/><rect x="739.2" y="1022.1999999999999" width="6.699999999999932" height="16.2" fill="#6a8fbd"/><circle cx="844.3" cy="989.0" r="8.1" fill="#3266a2"/><rect x="836.1999999999999" y="982.8" width="16.2" height="6.7000000000000455" fill="#3266a2"/></svg>
<div class="t" style="top:919.52px;font-size:13.8px;line-height:13.8px;color:#fff;font-weight:700;left:595.00px;">advantage</div>
<div class="t" style="top:935.21px;font-size:5.9px;line-height:9.5px;color:#fff;font-weight:400;left:595.20px;">The title can be changed by clicking and<br>re-entering. In the top "Start" panel, the<br>font, font size, and other editing</div>
<div class="t" style="top:919.52px;font-size:13.8px;line-height:13.8px;color:#fff;font-weight:700;left:778.50px;">Weak</div>
<div class="t" style="top:935.21px;font-size:5.9px;line-height:9.5px;color:#fff;font-weight:400;left:778.70px;">The title can be changed by clicking and<br>re-entering. In the top "Start" panel, the<br>font, font size, and other editing</div>
<div class="t" style="top:1013.32px;font-size:13.8px;line-height:13.8px;color:#fff;font-weight:700;left:595.00px;">opportunity</div>
<div class="t" style="top:1029.31px;font-size:5.9px;line-height:9.3px;color:#fff;font-weight:400;left:595.20px;">The title can be changed by clicking and<br>re-entering. In the top "Start" panel, the<br>font, font size, and other editing</div>
<div class="t" style="top:1013.12px;font-size:13.8px;line-height:13.8px;color:#fff;font-weight:700;left:779.00px;">threat</div>
<div class="t" style="top:1029.31px;font-size:5.9px;line-height:9.3px;color:#fff;font-weight:400;left:779.20px;">The title can be changed by clicking and<br>re-entering. In the top "Start" panel, the<br>font, font size, and other editing</div>
<div class="r" style="left:0.00px;top:1120.00px;width:475.00px;height:270.00px;background:#fff;"></div>
<svg class="r" style="left:6px;top:1129.5px" width="15" height="9" viewBox="0 0 15 9"><path d="M0.3 4.3 L1.9 0.6 L3.4 4.3 Z" fill="#9a9a9a"/><text x="4.4" y="4.3" font-family="Liberation Sans" font-weight="700" font-size="5" fill="#10285a">KIT</text><g fill="#4a5068" opacity="0.8"><rect x="0.4" y="5.5" width="1.4" height="1.5"/><rect x="2.4" y="5.5" width="1.4" height="1.5"/><rect x="4.6" y="5.5" width="2.2" height="1.5"/><rect x="7.4" y="5.5" width="3.0" height="1.5"/><rect x="11" y="5.5" width="1.6" height="1.5"/></g></svg>
<div class="t" style="left:-6.800000000000001px;top:1252.5px;width:40px;height:6px;font-size:6.15px;line-height:6px;text-align:center;color:#333;transform:rotate(-90deg)">Business plan</div>
<div class="t" style="top:1377.17px;font-size:7.6px;line-height:7.6px;color:#111;font-weight:700;left:8.60px;">50</div>
<div class="t" style="top:1141.22px;font-size:17.7px;line-height:17.7px;color:#111;font-weight:400;left:58.00px;">List of bullet points</div>
<div class="r" style="left:54.80px;top:1184.60px;width:406.20px;height:40.70px;background:#fdfdfd;border-top:0.8px solid #efefef;border-bottom:0.8px solid #e8e8e8;"></div>
<div class="r" style="left:54.60px;top:1184.60px;width:1.50px;height:40.70px;background:#0a4788;"></div>
<div class="r" style="left:54.80px;top:1233.40px;width:406.20px;height:40.20px;background:#fdfdfd;border-top:0.8px solid #efefef;border-bottom:0.8px solid #e8e8e8;"></div>
<div class="r" style="left:54.60px;top:1233.40px;width:1.50px;height:40.20px;background:#0a4788;"></div>
<div class="r" style="left:54.80px;top:1282.00px;width:406.20px;height:77.30px;background:#fdfdfd;border-top:0.8px solid #efefef;border-bottom:0.8px solid #e8e8e8;"></div>
<div class="r" style="left:54.60px;top:1282.00px;width:1.50px;height:77.30px;background:#0a4788;"></div>
<svg class="r" style="left:0;top:0" width="475" height="1400"><g fill="#0a4788"><path d="M96.0 1191.2 L100.3 1189.0 L100.3 1216.7 L96.0 1216.7 Z"/><path d="M92.0 1192.4 Q94.2 1191.2 97.0 1190.8 L97.0 1193.4 Q94.6 1193.0 92.4 1194.0 Z"/><path d="M92.0 1215.4 L98.6 1215.0 L98.6 1217.0 L92.0 1217.0 Z"/><circle cx="90.0" cy="1242.0" r="1.9"/><circle cx="89.0" cy="1307.7" r="1.9"/><circle cx="88.9" cy="1325.9" r="2.0"/></g><g fill="none" stroke="#0a4788" stroke-linecap="round"><path d="M89.6 1242.4 C89.6 1238.2 93.0 1236.4 97.0 1236.4 C102.4 1236.4 105.9 1239.4 105.9 1243.6 C105.9 1249.6 97.0 1254.0 89.6 1263.2" stroke-width="3.4"/><path d="M89.0 1263.6 L100.2 1262.6" stroke-width="2.2"/><path d="M89.2 1307.4 C90.0 1303.4 93.4 1301.6 97.2 1301.6 C102.6 1301.6 105.8 1304.4 105.8 1308.6 C105.8 1313.2 100.4 1315.4 94.2 1315.6" stroke-width="3.0"/><path d="M94.2 1315.6 C101.2 1315.6 105.9 1318.4 105.9 1323.0 C105.9 1328.8 102.0 1332.0 97.4 1332.0 C92.8 1332.0 89.6 1329.6 88.9 1326.0" stroke-width="2.8"/></g></svg>
<div class="t" style="top:1195.80px;font-size:9.8px;line-height:9.8px;color:#222;font-weight:700;left:126.60px;">Click here to add title</div>
<div class="t" style="top:1211.25px;font-size:5.85px;line-height:5.85px;color:#222;font-weight:400;-webkit-text-stroke:0.12px #222;left:126.60px;">The title can be changed by clicking and re-entering, and the font, font size and color can be changed</div>
<div class="t" style="top:1247.70px;font-size:9.8px;line-height:9.8px;color:#222;font-weight:700;left:126.60px;">Click here to add title</div>
<div class="t" style="top:1263.15px;font-size:5.85px;line-height:5.85px;color:#222;font-weight:400;-webkit-text-stroke:0.12px #222;left:126.60px;">The title can be changed by clicking and re-entering, and the font, font size and color can be changed</div>
<div class="t" style="top:1305.50px;font-size:9.8px;line-height:9.8px;color:#222;font-weight:700;left:126.60px;">Click here to add title</div>
<div class="t" style="top:1318.37px;font-size:5.85px;line-height:10.8px;color:#222;font-weight:400;-webkit-text-stroke:0.12px #222;left:126.60px;">The title can be changed by clicking and re-entering, and the font, font size and color can be changed in the top "Start"<br>panel. The font, font size and color can be changed in the top "Start" panel.</div>
<div class="r" style="left:485.00px;top:1120.00px;width:475.00px;height:270.00px;background:#fff;"></div>
<svg class="r" style="left:491px;top:1129.5px" width="15" height="9" viewBox="0 0 15 9"><path d="M0.3 4.3 L1.9 0.6 L3.4 4.3 Z" fill="#9a9a9a"/><text x="4.4" y="4.3" font-family="Liberation Sans" font-weight="700" font-size="5" fill="#10285a">KIT</text><g fill="#4a5068" opacity="0.8"><rect x="0.4" y="5.5" width="1.4" height="1.5"/><rect x="2.4" y="5.5" width="1.4" height="1.5"/><rect x="4.6" y="5.5" width="2.2" height="1.5"/><rect x="7.4" y="5.5" width="3.0" height="1.5"/><rect x="11" y="5.5" width="1.6" height="1.5"/></g></svg>
<div class="t" style="left:478.2px;top:1252.5px;width:40px;height:6px;font-size:6.15px;line-height:6px;text-align:center;color:#333;transform:rotate(-90deg)">Business plan</div>
<div class="t" style="top:1377.17px;font-size:7.6px;line-height:7.6px;color:#111;font-weight:700;left:493.60px;">51</div>
<div class="t" style="top:1141.22px;font-size:17.7px;line-height:17.7px;color:#111;font-weight:400;left:543.00px;">Data comparison</div>
<div class="r" style="left:542.10px;top:1190.10px;width:114.60px;height:40.10px;background:#0a4788;border-radius:2px 2px 0 0;"></div>
<div class="r" style="left:542.10px;top:1232.80px;width:114.60px;height:111.10px;background:#f2f2f2;border-radius:0 0 3px 3px;"></div>
<div class="t" style="top:1207.11px;font-size:11.8px;line-height:11.8px;color:#fff;font-weight:400;left:570.80px;">Enter your title</div>
<div class="t" style="top:1250.24px;font-size:6.8px;line-height:6.8px;color:#222;font-weight:400;-webkit-text-stroke:0.12px #222;left:554.20px;">Enter a title</div>
<div class="t" style="top:1250.24px;font-size:6.8px;line-height:6.8px;color:#222;font-weight:400;-webkit-text-stroke:0.12px #222;left:608.30px;">500,000</div>
<div class="t" style="top:1275.54px;font-size:6.8px;line-height:6.8px;color:#222;font-weight:400;-webkit-text-stroke:0.12px #222;left:554.20px;">Enter a title</div>
<div class="t" style="top:1275.54px;font-size:6.8px;line-height:6.8px;color:#222;font-weight:400;-webkit-text-stroke:0.12px #222;left:608.30px;">300,000</div>
<div class="t" style="top:1300.74px;font-size:6.8px;line-height:6.8px;color:#222;font-weight:400;-webkit-text-stroke:0.12px #222;left:554.20px;">Enter a title</div>
<div class="t" style="top:1300.74px;font-size:6.8px;line-height:6.8px;color:#222;font-weight:400;-webkit-text-stroke:0.12px #222;left:608.30px;">80,000</div>
<div class="t" style="top:1325.84px;font-size:6.8px;line-height:6.8px;color:#222;font-weight:400;-webkit-text-stroke:0.12px #222;left:554.20px;">Enter a title</div>
<div class="t" style="top:1325.84px;font-size:6.8px;line-height:6.8px;color:#222;font-weight:400;-webkit-text-stroke:0.12px #222;left:608.30px;">55,000</div>
<div class="r" style="left:552.00px;top:1264.05px;width:96.00px;height:0.70px;background:#e2e2e2;"></div>
<div class="r" style="left:552.00px;top:1289.25px;width:96.00px;height:0.70px;background:#e2e2e2;"></div>
<div class="r" style="left:552.00px;top:1315.05px;width:96.00px;height:0.70px;background:#e2e2e2;"></div>
<div class="r" style="left:534.2px;top:1195.1px;width:28px;height:28px;border-radius:50%;background:#fff;border:1.4px solid #0c2152"></div>
<div class="r" style="left:669.30px;top:1190.10px;width:114.30px;height:40.10px;background:#0a4788;border-radius:2px 2px 0 0;"></div>
<div class="r" style="left:669.30px;top:1232.80px;width:114.30px;height:111.10px;background:#f2f2f2;border-radius:0 0 3px 3px;"></div>
<div class="t" style="top:1207.11px;font-size:11.8px;line-height:11.8px;color:#fff;font-weight:400;left:699.40px;">Enter your title</div>
<div class="t" style="top:1250.24px;font-size:6.8px;line-height:6.8px;color:#222;font-weight:400;-webkit-text-stroke:0.12px #222;left:683.00px;">Enter a title</div>
<div class="t" style="top:1250.24px;font-size:6.8px;line-height:6.8px;color:#222;font-weight:400;-webkit-text-stroke:0.12px #222;left:735.30px;">500,000</div>
<div class="t" style="top:1275.54px;font-size:6.8px;line-height:6.8px;color:#222;font-weight:400;-webkit-text-stroke:0.12px #222;left:683.00px;">Enter a title</div>
<div class="t" style="top:1275.54px;font-size:6.8px;line-height:6.8px;color:#222;font-weight:400;-webkit-text-stroke:0.12px #222;left:735.30px;">300,000</div>
<div class="t" style="top:1300.74px;font-size:6.8px;line-height:6.8px;color:#222;font-weight:400;-webkit-text-stroke:0.12px #222;left:683.00px;">Enter a title</div>
<div class="t" style="top:1300.74px;font-size:6.8px;line-height:6.8px;color:#222;font-weight:400;-webkit-text-stroke:0.12px #222;left:735.30px;">80,000</div>
<div class="t" style="top:1325.84px;font-size:6.8px;line-height:6.8px;color:#222;font-weight:400;-webkit-text-stroke:0.12px #222;left:683.00px;">Enter a title</div>
<div class="t" style="top:1325.84px;font-size:6.8px;line-height:6.8px;color:#222;font-weight:400;-webkit-text-stroke:0.12px #222;left:735.30px;">55,000</div>
<div class="r" style="left:680.40px;top:1264.05px;width:95.20px;height:0.70px;background:#e2e2e2;"></div>
<div class="r" style="left:680.40px;top:1289.25px;width:95.20px;height:0.70px;background:#e2e2e2;"></div>
<div class="r" style="left:680.40px;top:1315.05px;width:95.20px;height:0.70px;background:#e2e2e2;"></div>
<div class="r" style="left:662.2px;top:1195.1px;width:28px;height:28px;border-radius:50%;background:#fff;border:1.4px solid #0c2152"></div>
<div class="r" style="left:795.60px;top:1190.10px;width:147.70px;height:40.10px;background:#0a4788;border-radius:2px 2px 0 0;"></div>
<div class="r" style="left:795.60px;top:1232.80px;width:147.70px;height:111.10px;background:#f2f2f2;border-radius:0 0 3px 3px;"></div>
<div class="t" style="top:1207.11px;font-size:11.8px;line-height:11.8px;color:#fff;font-weight:400;left:824.80px;">Enter your title</div>
<div class="t" style="top:1250.24px;font-size:6.8px;line-height:6.8px;color:#222;font-weight:400;-webkit-text-stroke:0.12px #222;left:817.50px;">Enter a title</div>
<div class="t" style="top:1250.24px;font-size:6.8px;line-height:6.8px;color:#222;font-weight:400;-webkit-text-stroke:0.12px #222;left:874.00px;">500,000</div>
<div class="t" style="top:1275.54px;font-size:6.8px;line-height:6.8px;color:#222;font-weight:400;-webkit-text-stroke:0.12px #222;left:817.50px;">Enter a title</div>
<div class="t" style="top:1275.54px;font-size:6.8px;line-height:6.8px;color:#222;font-weight:400;-webkit-text-stroke:0.12px #222;left:874.00px;">300,000</div>
<div class="t" style="top:1300.74px;font-size:6.8px;line-height:6.8px;color:#222;font-weight:400;-webkit-text-stroke:0.12px #222;left:817.50px;">Enter a title</div>
<div class="t" style="top:1300.74px;font-size:6.8px;line-height:6.8px;color:#222;font-weight:400;-webkit-text-stroke:0.12px #222;left:874.00px;">80,000</div>
<div class="t" style="top:1325.84px;font-size:6.8px;line-height:6.8px;color:#222;font-weight:400;-webkit-text-stroke:0.12px #222;left:817.50px;">Enter a title</div>
<div class="t" style="top:1325.84px;font-size:6.8px;line-height:6.8px;color:#222;font-weight:400;-webkit-text-stroke:0.12px #222;left:874.00px;">55,000</div>
<div class="r" style="left:815.30px;top:1264.05px;width:104.70px;height:0.70px;background:#e2e2e2;"></div>
<div class="r" style="left:815.30px;top:1289.25px;width:104.70px;height:0.70px;background:#e2e2e2;"></div>
<div class="r" style="left:815.30px;top:1315.05px;width:104.70px;height:0.70px;background:#e2e2e2;"></div>
<div class="r" style="left:788.7px;top:1195.1px;width:28px;height:28px;border-radius:50%;background:#fff;border:1.4px solid #0c2152"></div>
<svg class="r" style="left:0;top:0" width="960" height="1400"><rect x="543.7" y="1201.6" width="10.4" height="16.8" fill="none" stroke="#0c2152" stroke-width="1.1"/><rect x="543.7" y="1216.9" width="5.2" height="1.5" fill="#0c2152"/><circle cx="547.1" cy="1205.8" r="1.2" fill="#0c2152"/><path d="M545.2 1211.3 L545.2 1208.6 Q547.0 1207.4 548.8 1208.6 L548.8 1211.3 Z" fill="#0c2152"/><rect x="550.7" y="1207.8" width="0.6" height="3.4" fill="#0c2152" opacity="0.6"/><rect x="551.6" y="1207.2" width="0.6" height="4.0" fill="#0c2152" opacity="0.6"/><circle cx="553.8" cy="1215.8" r="4.0" fill="#fff"/><circle cx="553.8" cy="1215.8" r="3.2" fill="#0c2152"/><rect x="552.0" y="1215.25" width="3.6" height="1.1" fill="#fff"/><rect x="553.25" y="1214.0" width="1.1" height="3.6" fill="#fff"/><g transform="translate(668,1199.7) scale(0.455,0.46) translate(-107.4,-996.2)"><path d="M116.0 1017.6 C114.4 1011 114.8 1003.5 117.6 1000.0 C120.0 997.0 122.6 996.2 125.2 996.2 C129.6 996.2 133.2 998.8 134.8 1003.0 C136.2 1007.0 136.0 1013.2 134.4 1017.6 C132.6 1018.4 131.0 1017.8 130.4 1017.0 L121.0 1017.0 C120.0 1018.0 117.8 1018.6 116.0 1017.6 Z" fill="#0c2152"/><path d="M119.0 1008.6 C119.2 1005.2 121.6 1003.2 124.2 1002.4 C125.6 1003.2 126.8 1002.0 127.6 1001.8 C130.0 1003.0 131.4 1005.4 131.4 1008.0 C131.4 1011.6 129.6 1014.6 128.8 1016.0 L129.4 1018.8 L121.4 1018.8 L122.2 1016.0 C120.6 1014.2 119.0 1011.6 119.0 1008.6 Z" fill="#fff"/><path d="M107.4 1032.6 C108.0 1026.6 110.8 1022.2 115.0 1020.2 L119.8 1018.4 L123.6 1032.6 Z" fill="#0c2152"/><path d="M127.4 1032.6 L131.2 1018.4 L132.4 1018.8 C133.6 1022 134.6 1026.5 135.6 1032.6 Z" fill="#0c2152"/></g><circle cx="683.7" cy="1213.9" r="3.6" fill="#fff"/><circle cx="683.7" cy="1213.9" r="2.8" fill="#0c2152"/><circle cx="683.9" cy="1213.9" r="1.2" fill="#fff"/><g transform="translate(794.0,1202.0) scale(0.30,0.31) translate(-107.4,-996.2)"><path d="M116.0 1017.6 C114.4 1011 114.8 1003.5 117.6 1000.0 C120.0 997.0 122.6 996.2 125.2 996.2 C129.6 996.2 133.2 998.8 134.8 1003.0 C136.2 1007.0 136.0 1013.2 134.4 1017.6 C132.6 1018.4 131.0 1017.8 130.4 1017.0 L121.0 1017.0 C120.0 1018.0 117.8 1018.6 116.0 1017.6 Z" fill="#0c2152" /><path d="M107.4 1032.6 C108.0 1026.6 110.8 1022.2 115.0 1020.2 L119.8 1018.4 L123.6 1032.6 Z" fill="#0c2152" /><path d="M127.4 1032.6 L131.2 1018.4 L132.4 1018.8 C133.6 1022 134.6 1026.5 135.6 1032.6 Z" fill="#0c2152" /><path d="M119.0 1008.6 C119.2 1005.2 121.6 1003.2 124.2 1002.4 C125.6 1003.2 126.8 1002.0 127.6 1001.8 C130.0 1003.0 131.4 1005.4 131.4 1008.0 C131.4 1011.6 129.6 1014.6 128.8 1016.0 L129.4 1018.8 L121.4 1018.8 L122.2 1016.0 C120.6 1014.2 119.0 1011.6 119.0 1008.6 Z" fill="#fff"/></g><g transform="translate(801.3,1204.0) scale(0.44,0.352) translate(-107.4,-996.2)"><path d="M116.0 1017.6 C114.4 1011 114.8 1003.5 117.6 1000.0 C120.0 997.0 122.6 996.2 125.2 996.2 C129.6 996.2 133.2 998.8 134.8 1003.0 C136.2 1007.0 136.0 1013.2 134.4 1017.6 C132.6 1018.4 131.0 1017.8 130.4 1017.0 L121.0 1017.0 C120.0 1018.0 117.8 1018.6 116.0 1017.6 Z" fill="#fff" stroke="#fff" stroke-width="3"/><path d="M107.4 1032.6 C108.0 1026.6 110.8 1022.2 115.0 1020.2 L119.8 1018.4 L123.6 1032.6 Z" fill="#fff" stroke="#fff" stroke-width="3"/><path d="M127.4 1032.6 L131.2 1018.4 L132.4 1018.8 C133.6 1022 134.6 1026.5 135.6 1032.6 Z" fill="#fff" stroke="#fff" stroke-width="3"/><path d="M119.0 1008.6 C119.2 1005.2 121.6 1003.2 124.2 1002.4 C125.6 1003.2 126.8 1002.0 127.6 1001.8 C130.0 1003.0 131.4 1005.4 131.4 1008.0 C131.4 1011.6 129.6 1014.6 128.8 1016.0 L129.4 1018.8 L121.4 1018.8 L122.2 1016.0 C120.6 1014.2 119.0 1011.6 119.0 1008.6 Z" fill="#fff"/><path d="M116.0 1017.6 C114.4 1011 114.8 1003.5 117.6 1000.0 C120.0 997.0 122.6 996.2 125.2 996.2 C129.6 996.2 133.2 998.8 134.8 1003.0 C136.2 1007.0 136.0 1013.2 134.4 1017.6 C132.6 1018.4 131.0 1017.8 130.4 1017.0 L121.0 1017.0 C120.0 1018.0 117.8 1018.6 116.0 1017.6 Z" fill="#0c2152" /><path d="M107.4 1032.6 C108.0 1026.6 110.8 1022.2 115.0 1020.2 L119.8 1018.4 L123.6 1032.6 Z" fill="#0c2152" /><path d="M127.4 1032.6 L131.2 1018.4 L132.4 1018.8 C133.6 1022 134.6 1026.5 135.6 1032.6 Z" fill="#0c2152" /><path d="M119.0 1008.6 C119.2 1005.2 121.6 1003.2 124.2 1002.4 C125.6 1003.2 126.8 1002.0 127.6 1001.8 C130.0 1003.0 131.4 1005.4 131.4 1008.0 C131.4 1011.6 129.6 1014.6 128.8 1016.0 L129.4 1018.8 L121.4 1018.8 L122.2 1016.0 C120.6 1014.2 119.0 1011.6 119.0 1008.6 Z" fill="#fff"/></g><g fill="none" stroke="#0c2152" stroke-width="1.0"><path d="M803.0 1199.4 A10 10 0 0 1 809.0 1201.2"/><path d="M793.4 1214.4 A10 10 0 0 0 803.0 1218.8"/></g></svg>
</body></html>
